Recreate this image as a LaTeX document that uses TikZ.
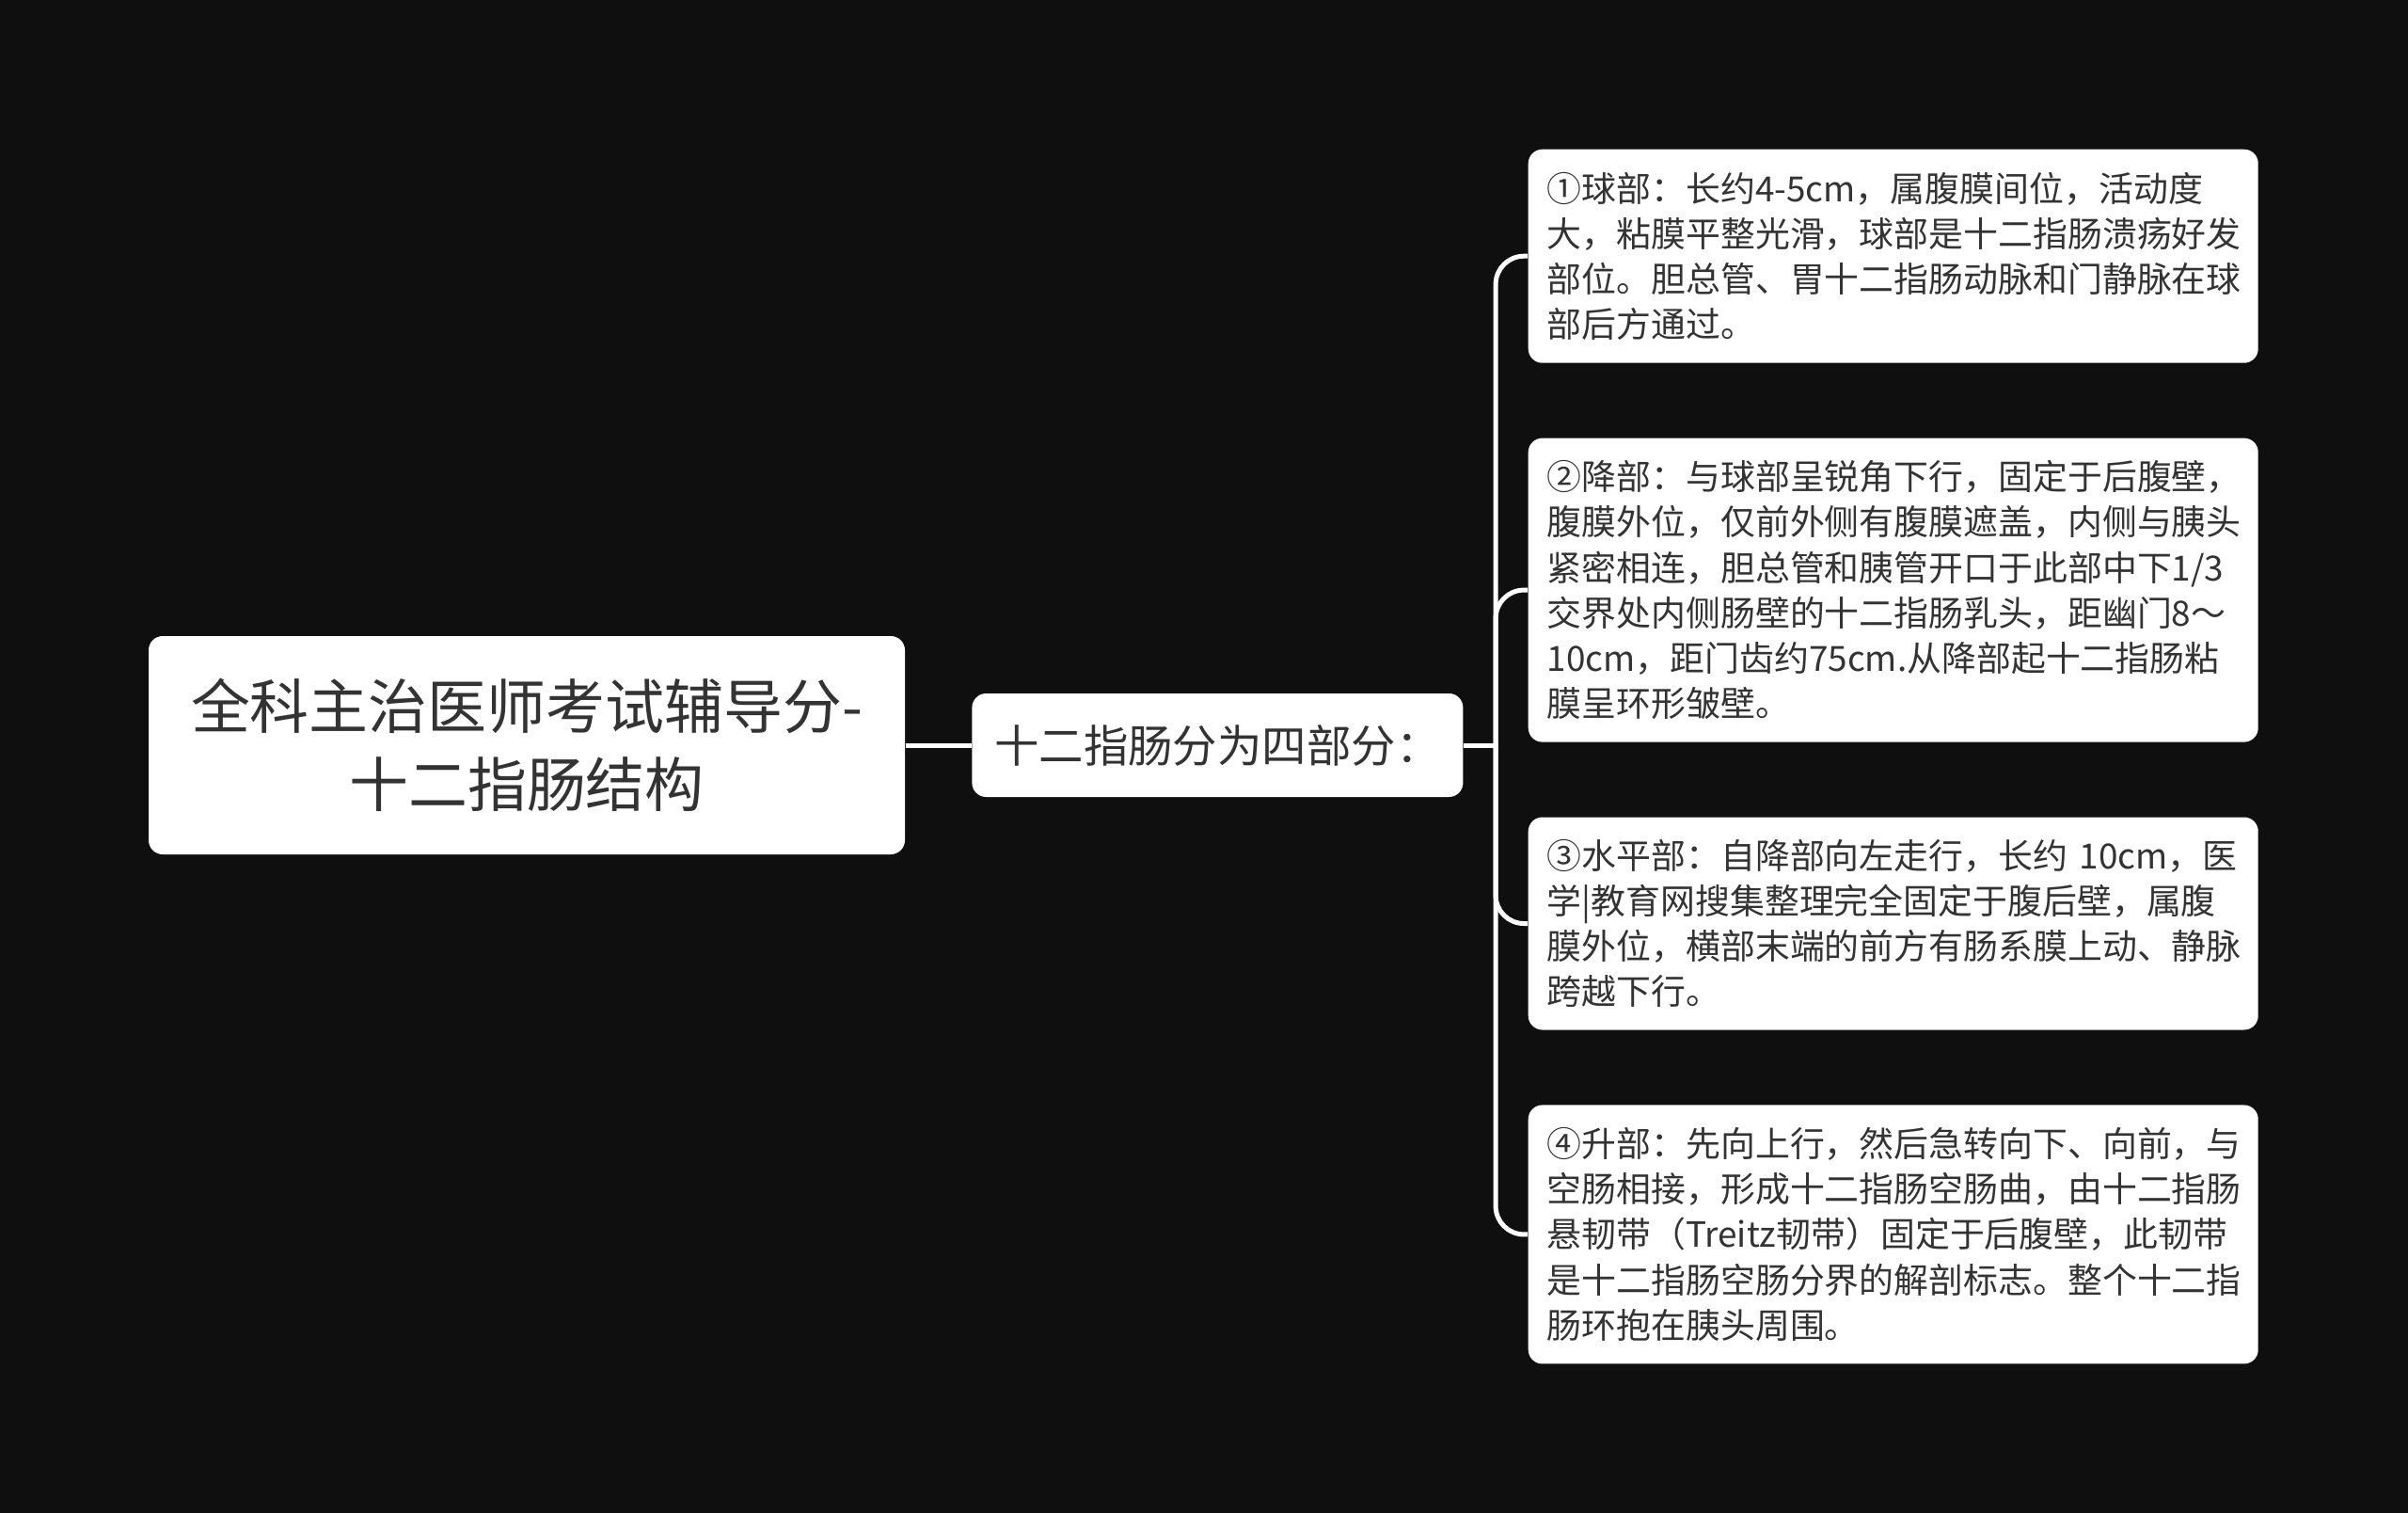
\documentclass[tikz,border=0pt]{standalone}
\usepackage{fontspec}
\setmainfont{Noto Sans CJK SC}
\usepackage{tikz}
\usetikzlibrary{positioning}
\definecolor{bgdark}{HTML}{0F0F0F}
\definecolor{inkgray}{HTML}{333333}
\tikzstyle{topic} = [rectangle, rounded corners=0.15cm, minimum width=8.04cm, minimum height=2.32cm, align=center, fill=white, text=inkgray, font=\fontsize{17.9}{23.6}\selectfont]
\tikzstyle{subtopic} = [rectangle, rounded corners=0.15cm, minimum width=5.22cm, minimum height=1.10cm, align=center, fill=white, text=inkgray, font=\fontsize{13.5}{16}\selectfont]
\tikzstyle{detail} = [rectangle, rounded corners=0.15cm, inner xsep=0.2cm, text width=7.36cm, align=left, fill=white, text=inkgray, font=\fontsize{10.5}{13.7}\selectfont]
\tikzstyle{link} = [draw=white, line width=0.05cm, rounded corners=0.3cm]

\begin{document}
\begin{tikzpicture}
\fill [bgdark] (0,0) rectangle (25.6,-16.08);
\useasboundingbox (0,0) rectangle (25.6,-16.08);

\node (root) [topic] at (5.60,-7.92) {全科主治医师考试辅导分-\\十二指肠结构};
\node (mid) [subtopic, right=0.70cm of root] {十二指肠分为四部分：};

\node (p1) [detail, minimum height=2.27cm, anchor=north west] at (16.24,-1.58) {①球部：长约4-5cm，属腹膜间位，活动度\\大，粘膜平整光滑，球部是十二指肠溃疡好发\\部位。胆总管、胃十二指肠动脉和门静脉在球\\部后方通过。};
\node (p2) [detail, minimum height=3.23cm, below=0.785cm of p1] {②降部：与球部呈锐角下行，固定于后腹壁，\\腹膜外位，仅前外侧有腹膜遮盖，内侧与胰头\\紧密相连，胆总管和胰管开口于此部中下1/3\\交界处内侧肠壁的十二指肠乳头，距幽门8～\\10cm，距门齿约75cm.从降部起十二指肠粘\\膜呈环形皱壁。};
\node (p3) [detail, minimum height=2.26cm, below=0.785cm of p2] {③水平部：自降部向左走行，长约~10cm，医\\学|教育网搜集整理完全固定于腹后壁，属腹\\膜外位，横部末端的前方有肠系膜上动、静脉\\跨越下行。};
\node (p4) [detail, minimum height=2.75cm, below=0.785cm of p3] {④升部：先向上行，然后急转向下、向前，与\\空肠相接，形成十二指肠空肠曲，由十二指肠\\悬韧带（Treitz韧带）固定于后腹壁，此韧带\\是十二指肠空肠分界的解剖标志。整个十二指\\肠环抱在胰头周围。};

\coordinate (fork) at ([xshift=0.34cm]mid.east);

\draw [link] (root) -- (mid);
\draw [link] (mid) -- (fork);
\draw [link] (fork) |- (p1.west);
\draw [link] (fork) |- (p2.west);
\draw [link] (fork) |- (p3.west);
\draw [link] (fork) |- (p4.west);

\end{tikzpicture}
\end{document}
